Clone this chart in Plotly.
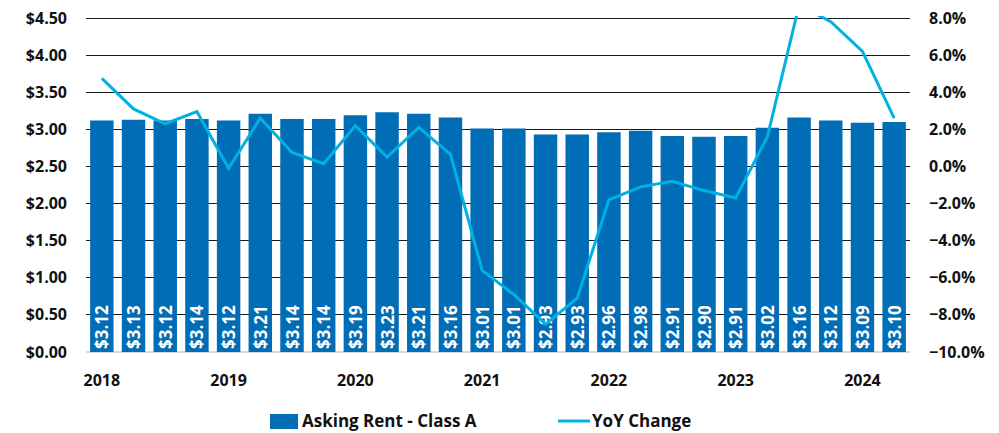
import plotly.graph_objects as go

# quarterly, 2018 Q1 .. 2024 Q2
quarters = list(range(26))
asking_rent = [3.12, 3.13, 3.12, 3.14, 3.12, 3.21, 3.14, 3.14, 3.19, 3.23, 3.21, 3.16, 3.01,
               3.01, 2.93, 2.93, 2.96, 2.98, 2.91, 2.90, 2.91, 3.02, 3.16, 3.12, 3.09, 3.10]
yoy_change = [4.75, 3.1, 2.3, 2.95, -0.1, 2.6, 0.75, 0.15, 2.2, 0.5, 2.1, 0.65, -5.6,
              -6.9, -8.5, -7.1, -1.8, -1.1, -0.8, -1.3, -1.7, 1.6, 8.7, 7.8, 6.2, 2.6]
year_ticks = [0, 4, 8, 12, 16, 20, 24]
year_labels = ["2018", "2019", "2020", "2021", "2022", "2023", "2024"]

BAR_BLUE = "#006db6"
LINE_BLUE = "#00b2e2"
FONT = "Open Sans"
TEXT = "#111111"

fig = go.Figure()
fig.add_trace(go.Bar(
    x=quarters, y=asking_rent, name="Asking Rent - Class A",
    marker=dict(color=BAR_BLUE, line=dict(width=0)),
    text=[f"${v:.2f}" for v in asking_rent],
    textposition="inside", insidetextanchor="start", textangle=-90,
    constraintext="none",
    textfont=dict(family=FONT, size=17, color="white", weight="bold"),
    hoverinfo="skip",
))
fig.add_trace(go.Scatter(
    x=quarters, y=yoy_change, name="YoY Change", yaxis="y2",
    mode="lines", line=dict(color=LINE_BLUE, width=3),
))

# legend drawn by hand so the swatches match the original (wide bar block, line stub)
# helpers take page pixel positions (page body has an 8px margin)
PLOT_H = 336

def px_x(px):
    return (px - 86) / 824

def px_y(py):
    return (352 - py) / PLOT_H

legend_font = dict(family=FONT, size=17, color=TEXT, weight="bold")
fig.add_shape(type="rect", xref="paper", yref="paper",
              x0=px_x(270), x1=px_x(298), y0=px_y(429), y1=px_y(414),
              fillcolor=BAR_BLUE, line=dict(width=0))
fig.add_shape(type="line", xref="paper", yref="paper",
              x0=px_x(558), x1=px_x(590), y0=px_y(421), y1=px_y(421),
              line=dict(color=LINE_BLUE, width=3))
fig.add_annotation(text="Asking Rent - Class A", xref="paper", yref="paper",
                   x=px_x(300), y=px_y(420), xanchor="left", yanchor="middle",
                   showarrow=False, font=legend_font)
fig.add_annotation(text="YoY Change", xref="paper", yref="paper",
                   x=px_x(590), y=px_y(420), xanchor="left", yanchor="middle",
                   showarrow=False, font=legend_font)

tick_font = dict(family=FONT, size=16, color=TEXT, weight="bold")
# plotly drops grid lines within 1px of the plot edge, so the ranges run 2px past
# the top ticks ($4.50 / 8.0%) to keep that grid line
fig.update_layout(
    width=991, height=425,
    margin=dict(l=78, r=89, t=8, b=81, autoexpand=False),
    plot_bgcolor="white", paper_bgcolor="white",
    bargap=0.26,
    showlegend=False,
    xaxis=dict(
        tickmode="array", tickvals=year_ticks, ticktext=year_labels,
        range=[-0.5, 25.5], showgrid=False, showline=False, zeroline=False,
        ticks="", tickfont=tick_font, ticklabelstandoff=17,
    ),
    yaxis=dict(
        range=[0, 4.527], tickmode="linear", tick0=0, dtick=0.5,
        tickprefix="$", tickformat=".2f",
        showgrid=True, gridcolor="#1a1a1a", gridwidth=1,
        zeroline=True, zerolinecolor="#d9d9d9", zerolinewidth=2,
        showline=False, tickfont=tick_font, ticklabelstandoff=18,
        ticklabeloverflow="allow",
    ),
    yaxis2=dict(
        overlaying="y", side="right", range=[-10, 8.108], tickmode="linear",
        tick0=-10, dtick=2, tickformat=".1f", ticksuffix="%",
        showgrid=False, zeroline=False, showline=False,
        tickfont=tick_font, ticklabelstandoff=18, ticklabeloverflow="allow",
    ),
)

fig.write_html("out.html")
